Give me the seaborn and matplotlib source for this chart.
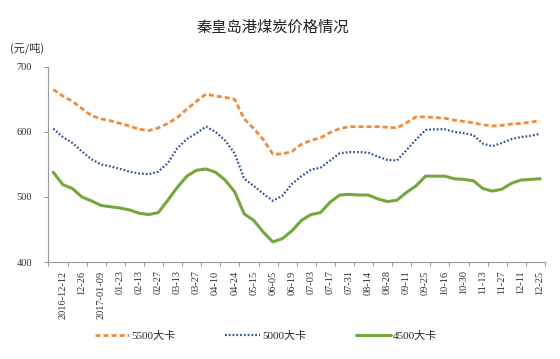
import numpy as np
import pandas as pd
import matplotlib
matplotlib.use("Agg")
import matplotlib.pyplot as plt
import seaborn as sns
from matplotlib.ticker import FixedLocator

# ---- data ----
tick_labels = ["2016-12-12", "12-26", "2017-01-09", "01-23", "02-13", "02-27",
               "03-13", "03-27", "04-10", "04-24", "05-15", "06-05", "06-19",
               "07-03", "07-17", "07-31", "08-14", "08-28", "09-11", "09-25",
               "10-16", "10-30", "11-13", "11-27", "12-11", "12-25"]

series_names = ["5500大卡", "5000大卡", "4500大卡"]

price_5500 = [665, 655, 647, 636, 625, 620, 617, 613, 609, 604, 602, 606, 613,
              622, 635, 647, 658, 655, 653, 650, 620, 605, 588, 566, 566, 570,
              581, 587, 591, 599, 605, 608, 608, 608, 608, 607, 606, 614, 623,
              623, 622, 621, 618, 616, 614, 611, 609, 610, 612, 613, 615, 617]

price_5000 = [605, 592, 583, 570, 558, 550, 547, 543, 539, 536, 535, 539, 552,
              575, 589, 598, 608, 600, 587, 567, 528, 517, 505, 494, 502, 520,
              532, 542, 545, 556, 567, 569, 569, 568, 562, 557, 556, 572, 588,
              603, 604, 604, 600, 598, 595, 582, 578, 583, 589, 592, 594, 597]

price_4500 = [538, 519, 513, 500, 494, 487, 485, 483, 480, 475, 473, 476, 495,
              515, 532, 541, 543, 538, 526, 508, 474, 464, 446, 431, 436, 448,
              464, 473, 476, 492, 503, 504, 503, 503, 497, 493, 495, 507, 517,
              532, 532, 532, 528, 527, 525, 513, 509, 512, 521, 526, 527, 528]

colors = ["#F08A3C", "#2F5597", "#74A83E"]

# ---- figure ----
sns.set_theme(style="white")
plt.rcParams["font.family"] = ["Liberation Serif", "Noto Sans CJK SC", "DejaVu Sans"]

fig = plt.figure(figsize=(5.6, 3.59), dpi=100)
ax = fig.add_axes([0.0866, 0.270, 0.8864, 0.544])

week = np.arange(len(price_5500))
df = pd.DataFrame({"week": np.tile(week, 3),
                   "price": price_5500 + price_5000 + price_4500,
                   "series": np.repeat(series_names, len(week))})

sns.lineplot(data=df, x="week", y="price", hue="series", style="series",
             palette=dict(zip(series_names, colors)),
             dashes={series_names[0]: (1.8, 1.1),
                     series_names[1]: (0.8, 0.9),
                     series_names[2]: ""},
             ax=ax, legend=False)

widths = [2.0, 1.6, 2.2]
for line, w in zip(ax.get_lines(), widths):
    line.set_linewidth(w)

ax.set_xlim(-0.5, len(week) - 0.5)
ax.set_ylim(400, 700)
ax.set_yticks([400, 500, 600, 700])
ax.set_yticklabels(["400", "500", "600", "700"], fontsize=7.5, family="Liberation Serif")

label_pos = np.arange(1, len(week), 2)
ax.set_xticks(label_pos)
ax.set_xticklabels(tick_labels, rotation=90, fontsize=7.5, family="Liberation Serif",
                   va="top", ha="center")
ax.xaxis.set_minor_locator(FixedLocator(np.arange(-0.5, len(week), 2)))
ax.tick_params(axis="x", which="major", length=0, pad=6, colors="#333333")
ax.tick_params(axis="x", which="minor", length=3, width=0.8, color="#999999", bottom=True, direction="out")
ax.tick_params(axis="y", length=3, width=0.8, color="#999999", left=True, direction="out",
               pad=9, labelcolor="#333333")
ax.set_xlabel("")
ax.set_ylabel("")

for s in ["top", "right"]:
    ax.spines[s].set_visible(False)
for s in ["left", "bottom"]:
    ax.spines[s].set_color("#999999")
    ax.spines[s].set_linewidth(0.8)

fig.text(0.488, 0.925, "秦皇岛港煤炭价格情况", ha="center", va="center",
         fontsize=11, family=["Noto Sans CJK SC"], color="#222222")
fig.text(0.018, 0.865, "(元/吨)", ha="left", va="center",
         fontsize=8, family=["Noto Sans CJK SC"], color="#333333")

handles = ax.get_lines()[:3]
leg = fig.legend(handles, series_names, ncol=3, loc="center",
                 bbox_to_anchor=(0.475, 0.064), frameon=False,
                 handlelength=3.1, handletextpad=0.2, columnspacing=4.5,
                 prop={"family": ["Liberation Serif", "Noto Sans CJK SC"], "size": 8})

fig.savefig("out.png", dpi=100)
